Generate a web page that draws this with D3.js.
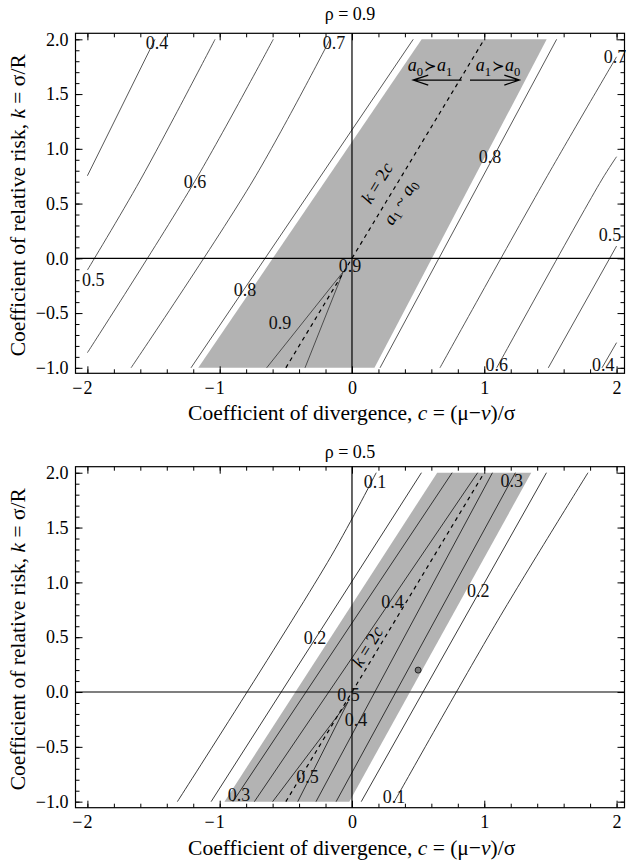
<!DOCTYPE html>
<html><head><meta charset="utf-8">
<script src="https://cdn.jsdelivr.net/npm/d3@7"></script>
<style>body{margin:0;background:#fff}</style>
</head><body>
<svg id="chart" width="626" height="860" xmlns="http://www.w3.org/2000/svg"></svg>
<script>
// ---------------- DATA ----------------
const rhoValues = [0.9, 0.5];
const xTickValues = [-2, -1, 0, 1, 2];
const xMinorTicks = d3.range(-2, 2.001, 0.2).map(v => +v.toFixed(1));
const yTickValues = [-1.0, -0.5, 0.0, 0.5, 1.0, 1.5, 2.0];
const yMinorTicks = d3.range(-1, 2.001, 0.1).map(v => +v.toFixed(1));

// contour lines for rho = 0.9 (points in (c, k))
const contoursRho09 = [
  {level: 0.4, pts: [[-2, 0.754], [-1.489, 2]]},
  {level: 0.5, pts: [[-2, -0.107], [-1.6, 0.715], [-1.035, 2]]},
  {level: 0.6, pts: [[-2, -0.862], [-1.19, 0.70], [-0.595, 2]]},
  {level: 0.7, pts: [[-1.67, -1], [-0.746, 0.715], [-0.166, 2]]},
  {level: 0.8, pts: [[-1.217, -1], [0.463, 2]]},
  {level: 0.9, pts: [[-0.066, -0.122], [-0.645, -1]]},
  {level: 0.9, pts: [[-0.066, -0.122], [-0.355, -1]]},
  {level: 0.8, pts: [[0.212, -1], [1.547, 2]]},
  {level: 0.7, pts: [[0.665, -1], [1.459, 0.715], [2, 1.84]]},
  {level: 0.6, pts: [[1.094, -1], [1.887, 0.715], [2, 0.928]]},
  {level: 0.5, pts: [[1.484, -1], [2, 0.112]]},
  {level: 0.4, pts: [[1.89, -1], [2, -0.77]]}
];
const shadeRho09 = [[-1.162, -1], [0.527, 2], [1.472, 2], [0.17, -1]];
const labelsRho09 = [
  {t: "0.4", c: -1.474, k: 1.966}, {t: "0.7", c: -0.136, k: 1.966},
  {t: "0.6", c: -1.187, k: 0.70},  {t: "0.5", c: -1.955, k: -0.198},
  {t: "0.8", c: -0.809, k: -0.29}, {t: "0.9", c: -0.544, k: -0.594},
  {t: "0.9", c: -0.015, k: -0.07}, {t: "0.8", c: 1.043, k: 0.928},
  {t: "0.7", c: 1.988, k: 1.841},  {t: "0.5", c: 1.95, k: 0.213},
  {t: "0.6", c: 1.094, k: -0.974}, {t: "0.4", c: 1.9, k: -0.974}
];

// contour lines for rho = 0.5
const contoursRho05 = [
  {level: 0.1, pts: [[-1.32, -1], [-0.158, 1.238], [0.183, 2]]},
  {level: 0.2, pts: [[-1.065, -1], [0.525, 2]]},
  {level: 0.3, pts: [[-0.9, -1], [0.757, 2]]},
  {level: 0.4, pts: [[-0.738, -1], [0.95, 2]]},
  {level: 0.5, pts: [[-0.03, -0.09], [-0.6, -1]]},
  {level: 0.5, pts: [[-0.03, -0.09], [-0.41, -1]]},
  {level: 0.4, pts: [[-0.272, -1], [1.062, 2]]},
  {level: 0.3, pts: [[-0.12, -1], [1.235, 2]]},
  {level: 0.2, pts: [[0.07, -1], [1.47, 2]]},
  {level: 0.1, pts: [[0.32, -1], [1.103, 0.655], [1.784, 2]]}
];
const shadeRho05 = [[-0.964, -1], [0.644, 2], [1.355, 2], [-0.02, -1]];
const labelsRho05 = [
  {t: "0.1", c: 0.174, k: 1.92},  {t: "0.3", c: 1.207, k: 1.923},
  {t: "0.2", c: 0.955, k: 0.92},  {t: "0.4", c: 0.306, k: 0.825},
  {t: "0.2", c: -0.28, k: 0.49},  {t: "0.5", c: -0.026, k: -0.026},
  {t: "0.4", c: 0.03, k: -0.255}, {t: "0.5", c: -0.336, k: -0.772},
  {t: "0.3", c: -0.854, k: -0.938}, {t: "0.1", c: 0.317, k: -0.954}
];
const pointRho05 = [[0.5, 0.2]];

// indifference line k = 2c
const indifference = [[-0.5, -1], [1, 2]];
// preference arrows (rho = 0.9 panel)
const arrowsRho09 = [
  {from: [0.829, 1.628], to: [0.463, 1.628]},
  {from: [0.892, 1.628], to: [1.265, 1.628]}
];
const prefTexts = [
  {c: 0.59, k: 1.71, parts: [["a","i"],["0","s"],["\u227B","r"],["a","i"],["1","s"]]},
  {c: 1.104, k: 1.71, parts: [["a","i"],["1","s"],["\u227B","r"],["a","i"],["0","s"]]}
];

// ---------------- DRAWING ----------------
const svg = d3.select("#chart");
const FONT = "'Liberation Serif','Times New Roman',serif";
const FS = 18;
const LFS = 21.5;

const panels = [
  {rho: rhoValues[0], top: 33.3, bottom: 373.3, yDom: [-1.05, 2.055], titleY: 20, xLabY: 420,
   contours: contoursRho09, shade: shadeRho09, labels: labelsRho09, stroke: "#3a3a3a"},
  {rho: rhoValues[1], top: 466.7, bottom: 807.7, yDom: [-1.055, 2.055], titleY: 458, xLabY: 855,
   contours: contoursRho05, shade: shadeRho05, labels: labelsRho05, stroke: "#1a1a1a"}
];
const L = 75.5, R = 624.5;

function rich(sel, parts, fs) {
  let shifted = false;
  parts.forEach(([t, st]) => {
    const ts = sel.append("tspan").text(t);
    if (st === "i") ts.attr("font-style", "italic");
    if (st === "r") ts.attr("font-family", "'DejaVu Serif',serif").attr("font-size", fs * 0.85)
      .attr("dx", 1).attr("dy", shifted ? -fs * 0.28 : 0);
    if (st === "s") {
      ts.attr("font-size", fs * 0.7).attr("dy", fs * 0.28);
      shifted = true;
    } else if (shifted && st !== "r") {
      ts.attr("dy", -fs * 0.28);
      shifted = false;
    } else if (st === "r") {
      shifted = false;
    }
    if (st === "i" && parts.indexOf(parts.find(q => q[1] === "r")) >= 0) {}
  });
}

panels.forEach((p, pi) => {
  const x = d3.scaleLinear().domain([-2.09, 2.06]).range([L, R]);
  const y = d3.scaleLinear().domain(p.yDom).range([p.bottom, p.top]);
  const g = svg.append("g");
  const clipId = "clip" + pi;
  svg.append("clipPath").attr("id", clipId).append("rect")
    .attr("x", L).attr("y", p.top).attr("width", R - L).attr("height", p.bottom - p.top);
  const plot = g.append("g").attr("clip-path", `url(#${clipId})`);

  // shaded region
  plot.append("path")
    .attr("d", "M" + p.shade.map(d => [x(d[0]), y(d[1])].join(",")).join("L") + "Z")
    .attr("fill", "#b3b3b3").attr("stroke", "none");

  // contour lines
  const line = d3.line().x(d => x(d[0])).y(d => y(d[1])).curve(d3.curveCatmullRom);
  plot.selectAll("path.contour").data(p.contours).join("path")
    .attr("class", "contour")
    .attr("d", d => line(d.pts))
    .attr("fill", "none").attr("stroke", p.stroke).attr("stroke-width", 0.85);

  // axes lines through origin
  plot.append("line").attr("x1", x(0)).attr("x2", x(0)).attr("y1", p.top).attr("y2", p.bottom)
    .attr("stroke", "#000").attr("stroke-width", 1.2);
  plot.append("line").attr("x1", L).attr("x2", R).attr("y1", y(0)).attr("y2", y(0))
    .attr("stroke", "#000").attr("stroke-width", 1.2);

  // dashed indifference line
  plot.append("path").attr("d", d3.line().x(d => x(d[0])).y(d => y(d[1]))(indifference))
    .attr("fill", "none").attr("stroke", "#000").attr("stroke-width", 1.2)
    .attr("stroke-dasharray", "4,4");

  // contour labels
  g.selectAll("text.clab").data(p.labels).join("text")
    .attr("class", "clab")
    .attr("x", d => x(d.c)).attr("y", d => y(d.k))
    .attr("text-anchor", "middle").attr("dominant-baseline", "central")
    .attr("font-family", FONT).attr("font-size", FS).attr("fill", "#111")
    .text(d => d.t);

  // rotated k = 2c label
  const ang = -Math.atan2(y(-1) - y(2), x(1) - x(-0.5)) * 180 / Math.PI;
  const kPos = pi === 0 ? [0.189, 0.688] : [0.117, 0.414];
  const kt = g.append("text")
    .attr("transform", `translate(${x(kPos[0])},${y(kPos[1])}) rotate(${ang})`)
    .attr("text-anchor", "middle").attr("dominant-baseline", "central")
    .attr("font-family", FONT).attr("font-size", FS);
  rich(kt, [["k","i"],[" = 2",""],["c","i"]], FS);

  if (pi === 0) {
    const at = g.append("text")
      .attr("transform", `translate(${x(0.363)},${y(0.514)}) rotate(${ang})`)
      .attr("text-anchor", "middle").attr("dominant-baseline", "central")
      .attr("font-family", FONT).attr("font-size", FS);
    rich(at, [["a","i"],["1","s"],[" ~ ",""],["a","i"],["0","s"]], FS);

    prefTexts.forEach(pt => {
      const tt = g.append("text").attr("x", x(pt.c)).attr("y", y(pt.k))
        .attr("text-anchor", "middle").attr("font-family", FONT).attr("font-size", FS);
      rich(tt, pt.parts, FS);
    });
    arrowsRho09.forEach(a => {
      const x1 = x(a.from[0]), x2 = x(a.to[0]), yy = y(a.from[1]);
      const dir = Math.sign(x2 - x1);
      g.append("path")
        .attr("d", `M${x1},${yy}L${x2},${yy}M${x2 - dir * 15},${yy - 5}L${x2},${yy}L${x2 - dir * 15},${yy + 5}`)
        .attr("fill", "none").attr("stroke", "#000").attr("stroke-width", 1.3);
    });
  } else {
    g.selectAll("circle.pt").data(pointRho05).join("circle")
      .attr("cx", d => x(d[0])).attr("cy", d => y(d[1])).attr("r", 3)
      .attr("fill", "#777").attr("stroke", "#222").attr("stroke-width", 1);
  }

  // frame
  g.append("rect").attr("x", L).attr("y", p.top).attr("width", R - L).attr("height", p.bottom - p.top)
    .attr("fill", "none").attr("stroke", "#000").attr("stroke-width", 1.2);

  // ticks
  const fmtY = d3.format(".1f"), fmtX = v => String(Math.abs(v));
  function addAxis(gen, tr, major, minor, fmt, pad) {
    const a1 = g.append("g").attr("transform", tr)
      .call(gen.tickValues(minor).tickSize(-4).tickSizeOuter(0).tickFormat(""));
    a1.select(".domain").remove();
    const a2 = g.append("g").attr("transform", tr)
      .call(gen.tickValues(major).tickSize(-7).tickSizeOuter(0).tickFormat(fmt).tickPadding(pad));
    a2.select(".domain").remove();
    [a1, a2].forEach(a => {
      a.selectAll("line").attr("stroke", "#000").attr("stroke-width", 1);
      a.selectAll("text").attr("font-family", FONT).attr("font-size", FS).attr("fill", "#000");
    });
    return a2;
  }
  const ax = addAxis(d3.axisBottom(x), `translate(0,${p.bottom})`, xTickValues, xMinorTicks, fmtX, 8);
  // minus sign hangs to the left of the centred number
  ax.selectAll(".tick").each(function(d) {
    if (d < 0) {
      const t = d3.select(this).select("text");
      const w = t.node().getComputedTextLength();
      d3.select(this).append("text")
        .attr("x", -w / 2 - 1).attr("y", t.attr("y")).attr("dy", t.attr("dy"))
        .attr("text-anchor", "end").attr("font-family", FONT).attr("font-size", FS)
        .attr("fill", "#000").text("\u2212");
    }
  });
  addAxis(d3.axisTop(x), `translate(0,${p.top})`, xTickValues, xMinorTicks, () => "", 3);
  addAxis(d3.axisLeft(y), `translate(${L},0)`, yTickValues, yMinorTicks, fmtY, 7);
  addAxis(d3.axisRight(y), `translate(${R},0)`, yTickValues, yMinorTicks, () => "", 3);

  // title
  g.append("text").attr("x", 350).attr("y", p.titleY).attr("text-anchor", "middle")
    .attr("font-family", FONT).attr("font-size", FS).text(`\u03C1 = ${p.rho}`);

  // axis labels
  const xl = g.append("text").attr("x", 351.7).attr("y", p.xLabY).attr("text-anchor", "middle")
    .attr("font-family", FONT).attr("font-size", LFS);
  rich(xl, [["Coefficient of divergence, ",""],["c","i"],[" = (\u03BC\u2212",""],["v","i"],[")/\u03C3",""]], LFS);
  const yl = g.append("text")
    .attr("transform", `translate(25,${(p.top + p.bottom) / 2 + 2}) rotate(-90)`)
    .attr("text-anchor", "middle").attr("font-family", FONT).attr("font-size", LFS);
  rich(yl, [["Coefficient of relative risk, ",""],["k","i"],[" = \u03C3/R",""]], LFS);
});
</script>
</body></html>
